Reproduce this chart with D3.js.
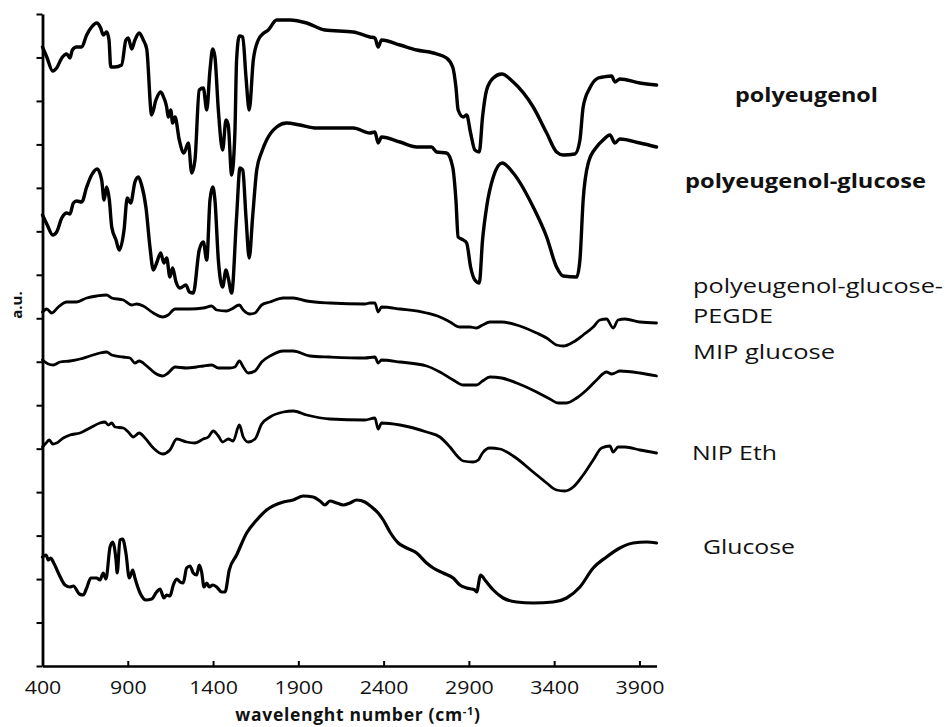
<!DOCTYPE html>
<html>
<head>
<meta charset="utf-8">
<script src="https://cdn.jsdelivr.net/npm/d3@7"></script>
<style>
  html, body { margin: 0; padding: 0; background: #fff; }
  svg { display: block; }
  text { font-family: "Open Sans", "Liberation Sans", sans-serif; fill: #111; }
</style>
</head>
<body>
<svg id="chart" width="945" height="727"></svg>
<script>
// FTIR spectra, stacked with vertical offsets (arbitrary units).
// Each spectrum: [wavenumber (cm-1), offset intensity]
const polyeugenol = [
  [400,619],[425,609],[460,595],[483,598],[513,608],[542,612],[561,608],[575,616],[600,619],[630,619],
  [659,631],[688,639],[718,643],[741,638],[756,631],[776,634],[790,626],[800,599],[825,599],[864,601],
  [889,626],[903,628],[923,617],[942,626],[967,633],[991,626],[1011,617],[1040,551],[1065,566],[1093,574],
  [1112,568],[1128,559],[1137,549],[1152,556],[1163,543],[1177,549],[1202,526],[1229,513],[1255,523],[1275,493],
  [1294,506],[1319,576],[1343,578],[1363,556],[1382,596],[1398,617],[1411,609],[1431,556],[1456,516],[1476,546],
  [1489,541],[1509,491],[1528,533],[1538,606],[1554,630],[1574,629],[1593,589],[1612,556],[1636,606],[1665,626],
  [1691,632],[1724,636],[1773,646],[1851,646],[1949,643],[2056,636],[2222,634],[2320,629],[2349,628],[2368,619],
  [2388,626],[2496,621],[2594,616],[2691,613],[2769,608],[2805,599],[2824,579],[2837,556],[2867,549],[2887,551],
  [2910,533],[2935,516],[2961,514],[2980,549],[3004,576],[3043,588],[3092,592],[3160,584],[3277,559],[3356,533],
  [3414,514],[3453,511],[3522,512],[3551,526],[3570,559],[3609,578],[3658,588],[3687,589],[3737,590],[3756,584],
  [3785,587],[3903,583],[4000,581]
];
const polyeugenolGlucose = [
  [400,451],[428,441],[460,431],[483,434],[513,448],[542,453],[561,452],[581,463],[600,465],[630,464],
  [659,479],[688,491],[721,497],[747,486],[761,466],[776,479],[792,466],[806,439],[831,426],[850,416],
  [878,436],[897,468],[917,463],[942,484],[962,489],[981,481],[1007,458],[1030,419],[1050,396],[1069,403],
  [1093,413],[1112,403],[1128,408],[1147,389],[1163,398],[1183,384],[1206,378],[1241,381],[1261,374],[1284,373],
  [1319,416],[1343,424],[1363,406],[1382,466],[1398,479],[1411,466],[1431,406],[1456,379],[1476,396],[1489,388],
  [1509,373],[1538,449],[1558,498],[1574,496],[1593,449],[1612,408],[1632,449],[1656,496],[1685,514],[1714,526],
  [1773,539],[1831,543],[1909,541],[2007,538],[2125,538],[2222,538],[2320,533],[2349,534],[2368,523],[2388,529],
  [2496,524],[2594,519],[2681,519],[2711,514],[2769,513],[2805,499],[2824,466],[2837,429],[2867,426],[2887,423],
  [2910,399],[2935,386],[2961,383],[2980,426],[3004,459],[3043,489],[3095,503],[3160,493],[3277,459],[3356,429],
  [3414,399],[3453,390],[3532,389],[3551,406],[3570,466],[3600,503],[3649,519],[3687,526],[3727,531],[3756,523],
  [3785,527],[3903,523],[4000,519]
];
const polyeugenolGlucosePegde = [
  [400,354],[425,357],[454,353],[493,359],[542,364],[600,364],[659,368],[718,370],[776,371],[806,368],
  [874,366],[923,361],[952,362],[991,360],[1050,353],[1105,349],[1137,351],[1177,357],[1265,357],[1343,358],
  [1392,360],[1421,356],[1480,355],[1509,357],[1554,361],[1577,356],[1616,352],[1646,353],[1685,361],[1734,364],
  [1812,368],[1870,368],[1949,365],[2085,363],[2290,362],[2320,363],[2349,363],[2368,354],[2388,359],[2496,357],
  [2652,353],[2730,349],[2789,344],[2847,339],[2906,339],[2945,338],[2980,341],[3023,344],[3092,344],[3180,341],
  [3297,333],[3356,328],[3414,321],[3453,320],[3512,324],[3570,331],[3629,339],[3668,346],[3707,347],[3746,338],
  [3775,346],[3815,347],[3903,344],[4000,343]
];
const mipGlucose = [
  [400,306],[434,302],[463,301],[503,304],[561,305],[620,307],[678,310],[737,313],[776,314],[806,311],
  [874,309],[913,308],[942,303],[967,305],[1011,300],[1059,293],[1105,290],[1137,293],[1177,299],[1245,298],
  [1304,299],[1343,300],[1392,301],[1431,298],[1499,298],[1528,299],[1554,305],[1577,299],[1606,293],[1646,295],
  [1685,304],[1734,310],[1812,315],[1870,315],[1968,310],[2085,309],[2290,308],[2349,309],[2368,303],[2388,306],
  [2496,304],[2652,300],[2730,294],[2808,286],[2867,281],[2945,281],[2980,285],[3023,289],[3092,288],[3180,283],
  [3297,274],[3375,267],[3424,263],[3473,263],[3532,268],[3590,276],[3649,286],[3707,294],[3737,292],[3756,293],
  [3785,295],[3903,293],[4000,290]
];
const nipEth = [
  [400,219],[421,223],[440,226],[460,222],[483,223],[522,228],[561,231],[620,233],[678,238],[737,243],
  [766,244],[786,241],[806,243],[825,239],[874,238],[903,234],[932,229],[967,233],[1001,228],[1050,218],
  [1105,212],[1147,216],[1187,227],[1245,224],[1294,223],[1343,227],[1372,229],[1401,235],[1431,230],[1456,224],
  [1489,227],[1518,225],[1554,241],[1577,229],[1606,224],[1646,227],[1685,242],[1734,249],[1812,254],[1870,255],
  [1949,251],[2085,247],[2290,246],[2349,248],[2368,237],[2388,243],[2496,241],[2652,234],[2730,229],[2789,219],
  [2837,209],[2867,205],[2925,204],[2955,206],[2980,213],[3023,218],[3082,217],[3160,210],[3277,194],[3356,183],
  [3414,176],[3463,175],[3512,179],[3570,191],[3629,206],[3678,218],[3727,220],[3746,214],[3775,219],[3815,219],
  [3903,216],[4000,213]
];
const glucose = [
  [400,109],[421,111],[434,106],[448,108],[463,104],[493,93],[532,81],[561,79],[581,80],[616,72],
  [639,71],[659,78],[683,88],[718,88],[737,86],[756,93],[772,87],[796,119],[812,124],[831,106],
  [838,93],[854,126],[870,127],[889,113],[909,88],[929,96],[942,88],[972,73],[1007,66],[1040,67],
  [1069,74],[1089,77],[1112,68],[1128,71],[1147,70],[1167,81],[1187,87],[1206,84],[1225,83],[1245,98],
  [1265,100],[1284,93],[1304,91],[1319,101],[1333,94],[1347,79],[1363,83],[1378,79],[1398,81],[1421,79],
  [1450,74],[1470,74],[1495,96],[1538,111],[1597,133],[1656,146],[1714,156],[1812,164],[1870,166],[1929,170],
  [1987,169],[2027,165],[2056,161],[2085,165],[2125,163],[2163,161],[2203,163],[2242,166],[2290,164],[2330,159],
  [2368,153],[2398,146],[2437,134],[2486,123],[2535,118],[2594,113],[2652,103],[2691,98],[2749,93],[2808,88],
  [2847,81],[2887,78],[2935,76],[2945,74],[2969,91],[2994,86],[3043,76],[3101,68],[3180,64],[3277,63],
  [3394,64],[3473,68],[3551,79],[3629,98],[3707,109],[3785,118],[3863,123],[3942,124],[4000,123]
];

const seriesNames = ["polyeugenol", "polyeugenol-glucose", "polyeugenol-glucose-PEGDE",
                     "MIP glucose", "NIP Eth", "Glucose"];
const xTicks = [400, 900, 1400, 1900, 2400, 2900, 3400, 3900];
const xDomain = [400, 4000];
const yDomain = [0, 652];
const yTickCount = 15; // equally spaced unlabeled a.u. ticks

// ---- layout ----
const svg = d3.select("#chart");
svg.append("rect").attr("width", 945).attr("height", 727).attr("fill", "#fff");

const x = d3.scaleLinear().domain(xDomain).range([42.5, 656.5]);
const y = d3.scaleLinear().domain(yDomain).range([666, 14]);

const line = d3.line()
  .x(d => x(d[0]))
  .y(d => y(d[1]))
  .curve(d3.curveMonotoneX);

const spectra = [
  { name: seriesNames[0], data: polyeugenol, width: 3.4 },
  { name: seriesNames[1], data: polyeugenolGlucose, width: 3.4 },
  { name: seriesNames[2], data: polyeugenolGlucosePegde, width: 2.8 },
  { name: seriesNames[3], data: mipGlucose, width: 2.8 },
  { name: seriesNames[4], data: nipEth, width: 2.8 },
  { name: seriesNames[5], data: glucose, width: 3.2 }
];

svg.append("g").selectAll("path")
  .data(spectra)
  .join("path")
  .attr("fill", "none")
  .attr("stroke", "#000")
  .attr("stroke-width", d => d.width)
  .attr("stroke-linejoin", "round")
  .attr("stroke-linecap", "round")
  .attr("d", d => line(d.data));

// ---- axes ----
const auTicks = d3.range(yTickCount + 1).map(i => yDomain[0] + i * (yDomain[1] - yDomain[0]) / yTickCount);

const yAxis = svg.append("g")
  .attr("transform", "translate(42.5,0)")
  .call(d3.axisLeft(y).tickValues(auTicks).tickSize(6).tickSizeOuter(0).tickFormat(""));
yAxis.select(".domain").attr("stroke", "#000").attr("stroke-width", 2.8);
yAxis.selectAll(".tick line").attr("stroke", "#000").attr("stroke-width", 2);

const xAxis = svg.append("g")
  .attr("transform", "translate(0,666)")
  .call(d3.axisBottom(x).tickValues(xTicks).tickSize(-5).tickSizeOuter(0).tickPadding(15).tickFormat(d3.format("d")));
xAxis.select(".domain").attr("stroke", "#000").attr("stroke-width", 2.4);
xAxis.selectAll(".tick line").attr("stroke", "#000").attr("stroke-width", 2);
xAxis.selectAll(".tick text")
  .attr("font-size", 18.5)
  .attr("fill", "#111")
  .attr("font-family", "'Open Sans', sans-serif")
  .attr("textLength", d => String(d).length * 12.2)
  .attr("lengthAdjust", "spacingAndGlyphs");

// axis titles
const title = svg.append("text")
  .attr("x", 358)
  .attr("y", 721)
  .attr("text-anchor", "middle")
  .attr("font-size", 17.5)
  .attr("font-weight", "bold")
  .attr("letter-spacing", 0.7);
title.append("tspan").text("wavelenght number (cm");
title.append("tspan").attr("font-size", 11).attr("dy", -6).text("-1");
title.append("tspan").attr("dy", 6).text(")");

svg.append("text")
  .attr("transform", "translate(22,305) rotate(-90)")
  .attr("text-anchor", "middle")
  .attr("font-size", 15)
  .attr("font-weight", "bold")
  .text("a.u.");

// ---- spectrum labels ----
const labelLayout = [
  { lines: [seriesNames[0]], x: 735, y: 102, w: [143], bold: true },
  { lines: [seriesNames[1]], x: 685, y: 188, w: [241], bold: true },
  { lines: ["polyeugenol-glucose-", "PEGDE"], x: 693, y: 293, w: [250, 80], bold: false },
  { lines: [seriesNames[3]], x: 693, y: 359, w: [142], bold: false },
  { lines: [seriesNames[4]], x: 692, y: 460, w: [85], bold: false },
  { lines: [seriesNames[5]], x: 703, y: 554, w: [92], bold: false }
];

labelLayout.forEach(l => {
  l.lines.forEach((t, i) => {
    svg.append("text")
      .attr("x", l.x)
      .attr("y", l.y + i * 30)
      .attr("font-size", l.bold ? 19 : 19.5)
      .attr("font-weight", l.bold ? "bold" : "normal")
      .attr("textLength", l.w[i])
      .attr("lengthAdjust", "spacingAndGlyphs")
      .text(t);
  });
});
</script>
</body>
</html>
